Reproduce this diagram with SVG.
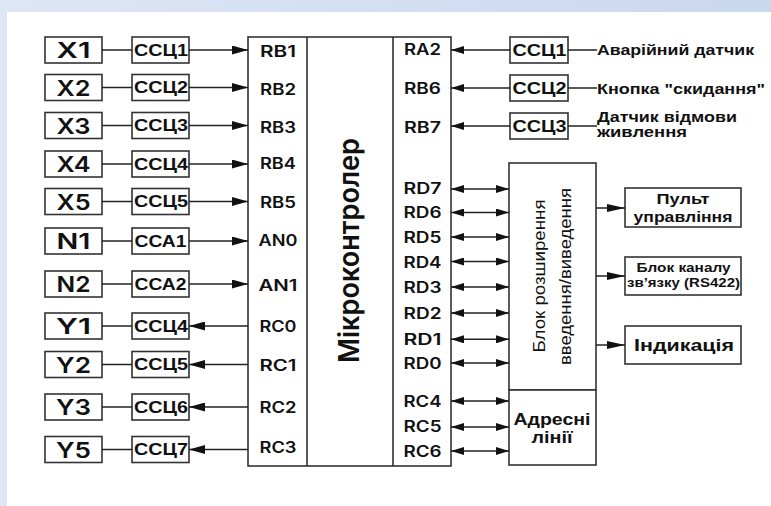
<svg xmlns="http://www.w3.org/2000/svg" width="771" height="506" viewBox="0 0 771 506">
<defs>
<linearGradient id="band" x1="0" y1="0" x2="1" y2="0">
<stop offset="0" stop-color="#dde6f5"/>
<stop offset="1" stop-color="#c9d7ef"/>
</linearGradient>
<marker id="aL" markerUnits="userSpaceOnUse" markerWidth="16" markerHeight="9" refX="16" refY="4.5" orient="auto-start-reverse"><path d="M0,0 L16,4.5 L0,9 z" fill="#111"/></marker>
<marker id="aS" markerUnits="userSpaceOnUse" markerWidth="13" markerHeight="8" refX="13" refY="4" orient="auto-start-reverse"><path d="M0,0 L13,4 L0,8 z" fill="#111"/></marker>
<marker id="aO" markerUnits="userSpaceOnUse" markerWidth="18" markerHeight="8" refX="18" refY="4" orient="auto-start-reverse"><path d="M0,0 L18,4 L0,8 z" fill="#111"/></marker>
</defs>
<style>
.box{fill:#fff;stroke:#333;stroke-width:1.6}
.w{stroke:#222;stroke-width:1.5;fill:none}
.dv{font-family:Inter,"DejaVu Sans",sans-serif;font-weight:600;fill:#111}
.ls{font-family:"Liberation Sans",Arial,sans-serif;font-weight:bold;fill:#111}
.ln{font-family:"Liberation Sans",Arial,sans-serif;fill:#111}
.big{font-size:22px}
.pin{font-size:15.5px}
.ss{font-size:16px}
text{text-anchor:middle}
.st{text-anchor:start}
</style>
<rect x="0" y="0" width="771" height="506" fill="url(#band)"/>
<rect x="7" y="12" width="764" height="494" fill="#fff"/>

<g id="mcu">
<rect class="box" x="248" y="37" width="203" height="429"/>
<line class="w" x1="307" y1="37" x2="307" y2="466"/>
<line class="w" x1="393" y1="37" x2="393" y2="466"/>
<text class="dv" font-size="28" transform="translate(359,250.5) rotate(-90)" textLength="225" lengthAdjust="spacingAndGlyphs">Мікроконтролер</text>
<g class="dv pin">
<text x="278" y="56.5" textLength="36" lengthAdjust="spacingAndGlyphs">RB1</text>
<text x="278" y="95" textLength="36" lengthAdjust="spacingAndGlyphs">RB2</text>
<text x="278" y="132.5" textLength="36" lengthAdjust="spacingAndGlyphs">RB3</text>
<text x="278" y="168.5" textLength="36" lengthAdjust="spacingAndGlyphs">RB4</text>
<text x="278" y="208" textLength="36" lengthAdjust="spacingAndGlyphs">RB5</text>
<text x="278" y="246" textLength="39" lengthAdjust="spacingAndGlyphs">AN0</text>
<text x="278" y="290.5" textLength="39" lengthAdjust="spacingAndGlyphs">AN1</text>
<text x="278" y="331.5" textLength="37" lengthAdjust="spacingAndGlyphs">RC0</text>
<text x="278" y="370.5" textLength="37" lengthAdjust="spacingAndGlyphs">RC1</text>
<text x="278" y="413" textLength="37" lengthAdjust="spacingAndGlyphs">RC2</text>
<text x="278" y="452.5" textLength="37" lengthAdjust="spacingAndGlyphs">RC3</text>
<text x="422.5" y="55" textLength="37" lengthAdjust="spacingAndGlyphs">RA2</text>
<text x="422.5" y="93.5" textLength="37" lengthAdjust="spacingAndGlyphs">RB6</text>
<text x="422.5" y="132.5" textLength="37" lengthAdjust="spacingAndGlyphs">RB7</text>
<text x="422.5" y="194" textLength="38" lengthAdjust="spacingAndGlyphs">RD7</text>
<text x="422.5" y="218" textLength="38" lengthAdjust="spacingAndGlyphs">RD6</text>
<text x="422.5" y="243" textLength="38" lengthAdjust="spacingAndGlyphs">RD5</text>
<text x="422.5" y="267.5" textLength="38" lengthAdjust="spacingAndGlyphs">RD4</text>
<text x="422.5" y="292.5" textLength="38" lengthAdjust="spacingAndGlyphs">RD3</text>
<text x="422.5" y="318.5" textLength="38" lengthAdjust="spacingAndGlyphs">RD2</text>
<text x="422.5" y="344.5" textLength="38" lengthAdjust="spacingAndGlyphs">RD1</text>
<text x="422.5" y="368.5" textLength="38" lengthAdjust="spacingAndGlyphs">RD0</text>
<text x="422.5" y="406.5" textLength="38" lengthAdjust="spacingAndGlyphs">RC4</text>
<text x="422.5" y="432" textLength="38" lengthAdjust="spacingAndGlyphs">RC5</text>
<text x="422.5" y="456.5" textLength="38" lengthAdjust="spacingAndGlyphs">RC6</text>
</g>
</g>

<g id="x1"><rect class="box" x="45" y="37" width="57" height="26"/><text class="dv big" x="73.5" y="58" textLength="34" lengthAdjust="spacingAndGlyphs">X1</text></g>
<g id="x2"><rect class="box" x="45" y="74.5" width="57" height="26"/><text class="dv big" x="73.5" y="95.5" textLength="34" lengthAdjust="spacingAndGlyphs">X2</text></g>
<g id="x3"><rect class="box" x="45" y="112.5" width="57" height="26"/><text class="dv big" x="73.5" y="133.5" textLength="34" lengthAdjust="spacingAndGlyphs">X3</text></g>
<g id="x4"><rect class="box" x="45" y="151" width="57" height="26"/><text class="dv big" x="73.5" y="172" textLength="34" lengthAdjust="spacingAndGlyphs">X4</text></g>
<g id="x5"><rect class="box" x="45" y="188.5" width="57" height="26"/><text class="dv big" x="73.5" y="209.5" textLength="34" lengthAdjust="spacingAndGlyphs">X5</text></g>
<g id="n1"><rect class="box" x="45" y="228" width="57" height="26"/><text class="dv big" x="73.5" y="249" textLength="34" lengthAdjust="spacingAndGlyphs">N1</text></g>
<g id="n2"><rect class="box" x="45" y="271" width="57" height="26"/><text class="dv big" x="73.5" y="292" textLength="34" lengthAdjust="spacingAndGlyphs">N2</text></g>
<g id="y1"><rect class="box" x="45" y="313" width="57" height="26"/><text class="dv big" x="73.5" y="334" textLength="35" lengthAdjust="spacingAndGlyphs">Y1</text></g>
<g id="y2"><rect class="box" x="45" y="351.5" width="57" height="26"/><text class="dv big" x="73.5" y="372.5" textLength="35" lengthAdjust="spacingAndGlyphs">Y2</text></g>
<g id="y3"><rect class="box" x="45" y="394" width="57" height="26"/><text class="dv big" x="73.5" y="415" textLength="35" lengthAdjust="spacingAndGlyphs">Y3</text></g>
<g id="y5"><rect class="box" x="45" y="436.5" width="57" height="26"/><text class="dv big" x="73.5" y="457.5" textLength="35" lengthAdjust="spacingAndGlyphs">Y5</text></g>

<g id="s1"><rect class="box" x="132" y="37" width="57" height="26"/><text class="ls ss" x="161" y="55.8" textLength="54" lengthAdjust="spacingAndGlyphs">ССЦ1</text></g>
<g id="s2"><rect class="box" x="132" y="74.5" width="57" height="26"/><text class="ls ss" x="161" y="93.3" textLength="54" lengthAdjust="spacingAndGlyphs">ССЦ2</text></g>
<g id="s3"><rect class="box" x="132" y="112.5" width="57" height="26"/><text class="ls ss" x="161" y="131.3" textLength="54" lengthAdjust="spacingAndGlyphs">ССЦ3</text></g>
<g id="s4"><rect class="box" x="132" y="151" width="57" height="26"/><text class="ls ss" x="161" y="169.8" textLength="54" lengthAdjust="spacingAndGlyphs">ССЦ4</text></g>
<g id="s5"><rect class="box" x="132" y="188.5" width="57" height="26"/><text class="ls ss" x="161" y="207.3" textLength="54" lengthAdjust="spacingAndGlyphs">ССЦ5</text></g>
<g id="a1"><rect class="box" x="132" y="228" width="57" height="26"/><text class="ls ss" x="160.5" y="246.8" textLength="52" lengthAdjust="spacingAndGlyphs">ССА1</text></g>
<g id="a2"><rect class="box" x="132" y="271" width="57" height="26"/><text class="ls ss" x="160.5" y="289.8" textLength="52" lengthAdjust="spacingAndGlyphs">ССА2</text></g>
<g id="s4o"><rect class="box" x="132" y="313" width="57" height="26"/><text class="ls ss" x="161" y="331.8" textLength="54" lengthAdjust="spacingAndGlyphs">ССЦ4</text></g>
<g id="s5o"><rect class="box" x="132" y="351.5" width="57" height="26"/><text class="ls ss" x="161" y="370.3" textLength="54" lengthAdjust="spacingAndGlyphs">ССЦ5</text></g>
<g id="s6o"><rect class="box" x="132" y="394" width="57" height="26"/><text class="ls ss" x="161" y="412.8" textLength="54" lengthAdjust="spacingAndGlyphs">ССЦ6</text></g>
<g id="s7o"><rect class="box" x="132" y="436.5" width="57" height="26"/><text class="ls ss" x="161" y="455.3" textLength="54" lengthAdjust="spacingAndGlyphs">ССЦ7</text></g>

<g id="r1"><rect class="box" x="510" y="37" width="58" height="26"/><text class="ls" font-size="16" x="539.5" y="56" textLength="54" lengthAdjust="spacingAndGlyphs">ССЦ1</text></g>
<g id="r2"><rect class="box" x="510" y="75" width="58" height="26"/><text class="ls" font-size="16" x="539.5" y="94" textLength="54" lengthAdjust="spacingAndGlyphs">ССЦ2</text></g>
<g id="r3"><rect class="box" x="510" y="113" width="58" height="26"/><text class="ls" font-size="16" x="539.5" y="132" textLength="54" lengthAdjust="spacingAndGlyphs">ССЦ3</text></g>

<g id="t1"><text class="ls st" font-size="14" x="597" y="55.3" textLength="157" lengthAdjust="spacingAndGlyphs">Аварійний датчик</text></g>
<g id="t2"><text class="ls st" font-size="14" x="597" y="94" textLength="168" lengthAdjust="spacingAndGlyphs">Кнопка "скидання"</text></g>
<g id="t3"><text class="ls st" font-size="14" x="597" y="121.7" textLength="140" lengthAdjust="spacingAndGlyphs">Датчик відмови</text><text class="ls st" font-size="14" x="597" y="136.5" textLength="90" lengthAdjust="spacingAndGlyphs">живлення</text></g>

<g id="ext">
<rect class="box" x="509" y="163" width="87" height="227"/>
<text class="ln" font-size="16" transform="translate(545,276) rotate(-90)" textLength="153" lengthAdjust="spacingAndGlyphs">Блок розширення</text>
<text class="ln" font-size="16" transform="translate(571,276.5) rotate(-90)" textLength="177" lengthAdjust="spacingAndGlyphs">введення/виведення</text>
</g>
<g id="addr">
<rect class="box" x="509" y="390" width="87" height="75"/>
<text class="ls" font-size="16" x="552" y="425" textLength="77" lengthAdjust="spacingAndGlyphs">Адресні</text>
<text class="ls" font-size="16" x="552" y="443.3" textLength="41" lengthAdjust="spacingAndGlyphs">лінії</text>
</g>
<g id="pult"><rect class="box" x="625" y="188" width="116" height="39"/><text class="ls" font-size="14" x="683" y="203.5" textLength="53" lengthAdjust="spacingAndGlyphs">Пульт</text><text class="ls" font-size="14" x="683" y="221.7" textLength="99" lengthAdjust="spacingAndGlyphs">управління</text></g>
<g id="rs"><rect class="box" x="625" y="257" width="116" height="38"/><text class="ls" font-size="12" x="683.5" y="272" textLength="94" lengthAdjust="spacingAndGlyphs">Блок каналу</text><text class="ls" font-size="12" x="683.5" y="286.7" textLength="113" lengthAdjust="spacingAndGlyphs">зв’язку (RS422)</text></g>
<g id="ind"><rect class="box" x="625" y="326" width="116" height="38"/><text class="ls" font-size="16" x="684" y="351" textLength="100" lengthAdjust="spacingAndGlyphs">Індикація</text></g>

<g id="connectors" class="w">
<line x1="102" y1="50" x2="132" y2="50"/><line x1="189" y1="50" x2="248" y2="50" marker-end="url(#aL)"/>
<line x1="102" y1="87.5" x2="132" y2="87.5"/><line x1="189" y1="87.5" x2="248" y2="87.5" marker-end="url(#aL)"/>
<line x1="102" y1="125.5" x2="132" y2="125.5"/><line x1="189" y1="125.5" x2="248" y2="125.5" marker-end="url(#aL)"/>
<line x1="102" y1="164" x2="132" y2="164"/><line x1="189" y1="164" x2="248" y2="164" marker-end="url(#aL)"/>
<line x1="102" y1="201.5" x2="132" y2="201.5"/><line x1="189" y1="201.5" x2="248" y2="201.5" marker-end="url(#aL)"/>
<line x1="102" y1="241" x2="132" y2="241"/><line x1="189" y1="241" x2="248" y2="241" marker-end="url(#aL)"/>
<line x1="102" y1="284" x2="132" y2="284"/><line x1="189" y1="284" x2="248" y2="284" marker-end="url(#aL)"/>
<line x1="102" y1="326" x2="132" y2="326"/><line x1="248" y1="326" x2="189" y2="326" marker-end="url(#aL)"/>
<line x1="102" y1="364.5" x2="132" y2="364.5"/><line x1="248" y1="364.5" x2="189" y2="364.5" marker-end="url(#aL)"/>
<line x1="102" y1="407" x2="132" y2="407"/><line x1="248" y1="407" x2="189" y2="407" marker-end="url(#aL)"/>
<line x1="102" y1="449.5" x2="132" y2="449.5"/><line x1="248" y1="449.5" x2="189" y2="449.5" marker-end="url(#aL)"/>
<line x1="510" y1="50" x2="451" y2="50" marker-end="url(#aS)"/><line x1="568" y1="50" x2="597" y2="50"/>
<line x1="510" y1="88" x2="451" y2="88" marker-end="url(#aS)"/><line x1="568" y1="88" x2="597" y2="88"/>
<line x1="510" y1="126" x2="451" y2="126" marker-end="url(#aS)"/><line x1="568" y1="126" x2="597" y2="126"/>
<line x1="451" y1="189" x2="509" y2="189" marker-start="url(#aS)" marker-end="url(#aS)"/>
<line x1="451" y1="212.5" x2="509" y2="212.5" marker-start="url(#aS)" marker-end="url(#aS)"/>
<line x1="451" y1="237" x2="509" y2="237" marker-start="url(#aS)" marker-end="url(#aS)"/>
<line x1="451" y1="261.5" x2="509" y2="261.5" marker-start="url(#aS)" marker-end="url(#aS)"/>
<line x1="451" y1="287" x2="509" y2="287" marker-start="url(#aS)" marker-end="url(#aS)"/>
<line x1="451" y1="313" x2="509" y2="313" marker-start="url(#aS)" marker-end="url(#aS)"/>
<line x1="451" y1="339.3" x2="509" y2="339.3" marker-start="url(#aS)" marker-end="url(#aS)"/>
<line x1="451" y1="363" x2="509" y2="363" marker-start="url(#aS)" marker-end="url(#aS)"/>
<line x1="451" y1="401" x2="509" y2="401" marker-start="url(#aS)" marker-end="url(#aS)"/>
<line x1="451" y1="427" x2="509" y2="427" marker-start="url(#aS)" marker-end="url(#aS)"/>
<line x1="451" y1="451" x2="509" y2="451" marker-start="url(#aS)" marker-end="url(#aS)"/>
<line x1="596" y1="208" x2="625" y2="208" marker-end="url(#aO)"/>
<line x1="596" y1="276" x2="625" y2="276" marker-end="url(#aO)"/>
<line x1="596" y1="345" x2="625" y2="345" marker-end="url(#aO)"/>
</g>
</svg>
